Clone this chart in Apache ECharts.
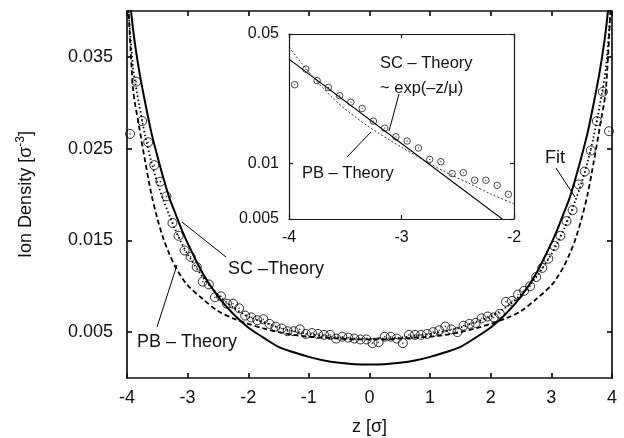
<!DOCTYPE html>
<html><head><meta charset="utf-8">
<script src="https://cdn.jsdelivr.net/npm/echarts@6/dist/echarts.min.js"></script>
<style>html,body{margin:0;padding:0;background:#fff}#c{width:624px;height:438px}</style>
</head><body><div id="c"></div>
<script>
// ---- data ----
const zData = [-3.95,-3.85,-3.75,-3.65,-3.55,-3.45,-3.35,-3.25,-3.15,-3.05,-2.95,-2.85,-2.75,-2.65,-2.55,-2.45,-2.35,-2.25,-2.15,-2.05,
  -1.95,-1.85,-1.75,-1.65,-1.55,-1.45,-1.35,-1.25,-1.15,-1.05,-0.95,-0.85,-0.75,-0.65,-0.55,-0.45,-0.35,-0.25,-0.15,-0.05,
  0.05,0.15,0.25,0.35,0.45,0.55,0.65,0.75,0.85,0.95,1.05,1.15,1.25,1.35,1.45,1.55,1.65,1.75,1.85,1.95,
  2.05,2.15,2.25,2.35,2.45,2.55,2.65,2.75,2.85,2.95,3.05,3.15,3.25,3.35,3.45,3.55,3.65,3.75,3.85,3.95];
const densityData = [0.0266,0.0323,0.0280,0.0257,0.0232,0.0214,0.0198,0.0169,0.0155,0.0139,0.0132,0.0121,0.0105,0.0102,0.0088,0.0089,0.0081,0.0081,0.0076,0.0068,
  0.0066,0.0063,0.0064,0.0059,0.0056,0.0054,0.0051,0.0051,0.0053,0.0048,0.0049,0.0048,0.0047,0.0047,0.0043,0.0045,0.0044,0.0043,0.0042,0.0042,
  0.0038,0.0039,0.0045,0.0045,0.0043,0.0038,0.0047,0.0047,0.0047,0.0048,0.0050,0.0052,0.0056,0.0053,0.0050,0.0057,0.0059,0.0060,0.0065,0.0067,
  0.0066,0.0070,0.0083,0.0084,0.0091,0.0095,0.0100,0.0110,0.0120,0.0130,0.0144,0.0155,0.0171,0.0183,0.0211,0.0225,0.0248,0.0280,0.0312,0.0269];

const curveZ = [-4,-3.9,-3.8,-3.7,-3.6,-3.5,-3.4,-3.3,-3.2,-3.1,-3.0,-2.75,-2.5,-2.25,-2.0,-1.75,-1.5,-1.25,-1.0,-0.75,-0.5,-0.25,0,
  0.25,0.5,0.75,1.0,1.25,1.5,1.75,2.0,2.25,2.5,2.75,3.0,3.1,3.2,3.3,3.4,3.5,3.6,3.7,3.8,3.9,4];
const scTheory = [0.0445,0.0380,0.0335,0.0300,0.0268,0.0242,0.0218,0.0196,0.0179,0.0162,0.0147,0.0114,0.0089,0.0070,0.0055,0.0044,0.0034,0.0028,0.0023,0.0019,0.00165,0.0015,0.00146,
  0.0015,0.00165,0.0019,0.0023,0.0028,0.0034,0.0044,0.0055,0.0070,0.0089,0.0114,0.0147,0.0162,0.0179,0.0196,0.0218,0.0242,0.0268,0.0300,0.0335,0.0380,0.0445];
const pbTheory = [0.0440,0.0315,0.0274,0.0236,0.0201,0.0174,0.0152,0.0135,0.0121,0.0110,0.0101,0.0086,0.0073,0.0065,0.0059,0.0054,0.0050,0.0047,0.0045,0.0044,0.0043,0.0042,0.0042,
  0.0042,0.0043,0.0044,0.0045,0.0047,0.0050,0.0054,0.0059,0.0065,0.0073,0.0086,0.0101,0.0110,0.0121,0.0135,0.0152,0.0174,0.0201,0.0236,0.0274,0.0315,0.0440];
const fitCurve = [0.0425,0.0338,0.0298,0.0264,0.0236,0.0213,0.0194,0.0177,0.0161,0.0147,0.0135,0.0110,0.0091,0.0077,0.0067,0.0061,0.0055,0.0051,0.0048,0.0046,0.0044,0.0043,0.0043,
  0.0043,0.0044,0.0046,0.0048,0.0051,0.0055,0.0061,0.0067,0.0077,0.0091,0.0110,0.0135,0.0147,0.0161,0.0177,0.0194,0.0213,0.0236,0.0264,0.0298,0.0338,0.0425];

const insetSCZ = [-4,-3,-2];
const insetSC = [0.0366,0.0128,0.00448];
const insetPBZ = [-4,-3.9,-3.8,-3.7,-3.6,-3.5,-3.4,-3.3,-3.2,-3.1,-3.0,-2.8,-2.6,-2.4,-2.2,-2.0];
const insetPB = [0.0424,0.0355,0.0300,0.0256,0.0222,0.0196,0.0176,0.0159,0.0145,0.0133,0.0122,0.0104,0.0089,0.0078,0.0068,0.00605];

const xTicks = [-4,-3,-2,-1,0,1,2,3,4];
const yTickValues = [0.005,0.015,0.025,0.035];

// ---- build ----
const FONT = '"Liberation Sans", Arial, Helvetica, sans-serif';
const TXT = '#111';
const pairs = (xs, ys) => xs.map((x, i) => [x, ys[i]]);
const pts = pairs(zData, densityData);
const insetPts = pts.filter(p => p[0] > -4 && p[0] < -2);

const chart = echarts.init(document.getElementById('c'), null, {renderer: 'canvas'});
const mainLine = {color: '#111', width: 1.7};
const insetLine = {color: '#1a1a1a', width: 1.2};

const option = {
  backgroundColor: '#fff',
  animation: false,
  textStyle: {fontFamily: FONT},
  grid: [
    {left: 127, top: 11, width: 485, height: 367, show: false, containLabel: false, outerBoundsMode: 'none'},
    {left: 289, top: 34, width: 225, height: 185, show: true, backgroundColor: '#fff', borderWidth: 0, z: 10,
     containLabel: false, outerBoundsMode: 'none'}
  ],
  xAxis: [
    {gridIndex: 0, type: 'value', min: -4, max: 4, interval: 1, position: 'bottom',
     axisLine: {lineStyle: mainLine, onZero: false},
     axisTick: {inside: true, length: 5, lineStyle: mainLine},
     axisLabel: {fontSize: 18, color: TXT, margin: 11, fontFamily: FONT},
     splitLine: {show: false},
     name: 'z [σ]', nameLocation: 'middle', nameGap: 40,
     nameTextStyle: {fontSize: 18, color: TXT, fontFamily: FONT}},
    {gridIndex: 0, type: 'value', min: -4, max: 4, interval: 1, position: 'top',
     axisLine: {lineStyle: mainLine, onZero: false},
     axisTick: {inside: true, length: 5, lineStyle: mainLine},
     axisLabel: {show: false}, splitLine: {show: false}},
    {gridIndex: 1, type: 'value', min: -4, max: -2, interval: 1, position: 'bottom', z: 11,
     axisLine: {lineStyle: insetLine, onZero: false},
     axisTick: {inside: true, length: 4, lineStyle: insetLine},
     axisLabel: {fontSize: 16, color: TXT, margin: 11, fontFamily: FONT},
     splitLine: {show: false}},
    {gridIndex: 1, type: 'value', min: -4, max: -2, interval: 1, position: 'top', z: 11,
     axisLine: {lineStyle: insetLine, onZero: false},
     axisTick: {inside: true, length: 4, lineStyle: insetLine},
     axisLabel: {show: false}, splitLine: {show: false}}
  ],
  yAxis: [
    {gridIndex: 0, type: 'value', min: 0, max: 0.04, position: 'left',
     axisLine: {show: true, lineStyle: mainLine, onZero: false},
     axisTick: {show: true, inside: true, length: 5, lineStyle: mainLine, customValues: yTickValues},
     axisLabel: {fontSize: 18, color: TXT, margin: 14, fontFamily: FONT, customValues: yTickValues,
                 formatter: v => v.toFixed(3)},
     splitLine: {show: false},
     name: '{a|Ion Density [σ}{s|-3}{a|]}', nameLocation: 'middle', nameGap: 90, nameRotate: 90,
     nameTextStyle: {rich: {
       a: {fontSize: 18, color: TXT, fontFamily: FONT},
       s: {fontSize: 12, color: TXT, fontFamily: FONT, padding: [0, 0, 10, 0]}
     }}},
    {gridIndex: 0, type: 'value', min: 0, max: 0.04, position: 'right',
     axisLine: {show: true, lineStyle: mainLine, onZero: false},
     axisTick: {show: true, inside: true, length: 5, lineStyle: mainLine, customValues: yTickValues},
     axisLabel: {show: false}, splitLine: {show: false}},
    {gridIndex: 1, type: 'log', logBase: 10, min: 0.005, max: 0.05, position: 'left', z: 11,
     axisLine: {show: true, lineStyle: insetLine, onZero: false},
     axisTick: {show: true, inside: true, length: 4, lineStyle: insetLine},
     axisLabel: {fontSize: 16, color: TXT, margin: 10, fontFamily: FONT,
                 formatter: v => String(parseFloat(Number(v).toPrecision(3)))},
     splitLine: {show: false}},
    {gridIndex: 1, type: 'log', logBase: 10, min: 0.005, max: 0.05, position: 'right', z: 11,
     axisLine: {show: true, lineStyle: insetLine, onZero: false},
     axisTick: {show: true, inside: true, length: 4, lineStyle: insetLine},
     axisLabel: {show: false}, splitLine: {show: false}}
  ],
  series: [
    {type: 'line', name: 'SC', xAxisIndex: 0, yAxisIndex: 0, data: pairs(curveZ, scTheory), smooth: 0.3,
     symbol: 'none', lineStyle: {color: '#000', width: 2}, clip: true, z: 3},
    {type: 'line', name: 'PB', xAxisIndex: 0, yAxisIndex: 0, data: pairs(curveZ, pbTheory), smooth: 0.3,
     symbol: 'none', lineStyle: {color: '#000', width: 1.8, type: [5, 3]}, clip: true, z: 3},
    {type: 'line', name: 'Fit', xAxisIndex: 0, yAxisIndex: 0, data: pairs(curveZ, fitCurve), smooth: 0.3,
     symbol: 'none', lineStyle: {color: '#000', width: 1.8, type: [1.5, 2.5]}, clip: true, z: 3},
    {type: 'scatter', xAxisIndex: 0, yAxisIndex: 0, data: pts, symbol: 'circle', symbolSize: 9,
     itemStyle: {color: 'rgba(0,0,0,0)', borderColor: '#000', borderWidth: 1}, z: 4},
    {type: 'scatter', xAxisIndex: 0, yAxisIndex: 0, data: pts, symbol: 'circle', symbolSize: 1.6,
     itemStyle: {color: '#000'}, z: 4},
    {type: 'line', xAxisIndex: 2, yAxisIndex: 2, data: pairs(insetSCZ, insetSC),
     symbol: 'none', lineStyle: {color: '#000', width: 1.1}, clip: true, z: 12},
    {type: 'line', xAxisIndex: 2, yAxisIndex: 2, data: pairs(insetPBZ, insetPB), smooth: 0.3,
     symbol: 'none', lineStyle: {color: '#333', width: 1, type: [2, 2]}, clip: true, z: 12},
    {type: 'scatter', xAxisIndex: 2, yAxisIndex: 2, data: insetPts, symbol: 'circle', symbolSize: 6.5,
     itemStyle: {color: 'rgba(0,0,0,0)', borderColor: '#000', borderWidth: 0.9}, z: 13},
    {type: 'scatter', xAxisIndex: 2, yAxisIndex: 2, data: insetPts, symbol: 'circle', symbolSize: 1.3,
     itemStyle: {color: '#000'}, z: 13}
  ],
  graphic: [
    {type: 'text', x: 228, y: 269, z: 100, style: {text: 'SC –Theory', fontSize: 18, fontFamily: FONT, fill: TXT, verticalAlign: 'middle'}},
    {type: 'text', x: 137, y: 342, z: 100, style: {text: 'PB – Theory', fontSize: 18, fontFamily: FONT, fill: TXT, verticalAlign: 'middle'}},
    {type: 'text', x: 545, y: 158, z: 100, style: {text: 'Fit', fontSize: 18, fontFamily: FONT, fill: TXT, verticalAlign: 'middle'}},
    {type: 'text', x: 380, y: 63, z: 100, style: {text: 'SC – Theory', fontSize: 16.5, fontFamily: FONT, fill: TXT, verticalAlign: 'middle'}},
    {type: 'text', x: 380, y: 88, z: 100, style: {text: '~ exp(–z/μ)', fontSize: 16.5, fontFamily: FONT, fill: TXT, verticalAlign: 'middle'}},
    {type: 'text', x: 302, y: 173, z: 100, style: {text: 'PB – Theory', fontSize: 16.5, fontFamily: FONT, fill: TXT, verticalAlign: 'middle'}},
    {type: 'line', z: 100, shape: {x1: 182, y1: 222, x2: 226, y2: 257}, style: {stroke: '#000', lineWidth: 1}},
    {type: 'line', z: 100, shape: {x1: 157, y1: 327, x2: 177, y2: 265}, style: {stroke: '#000', lineWidth: 1}},
    {type: 'line', z: 100, shape: {x1: 556, y1: 168, x2: 575, y2: 197}, style: {stroke: '#000', lineWidth: 1}},
    {type: 'line', z: 100, shape: {x1: 399, y1: 94, x2: 389, y2: 131}, style: {stroke: '#000', lineWidth: 1}},
    {type: 'line', z: 100, shape: {x1: 347, y1: 157, x2: 371, y2: 132}, style: {stroke: '#000', lineWidth: 1}}
  ]
};
chart.setOption(option);
</script>
</body></html>
